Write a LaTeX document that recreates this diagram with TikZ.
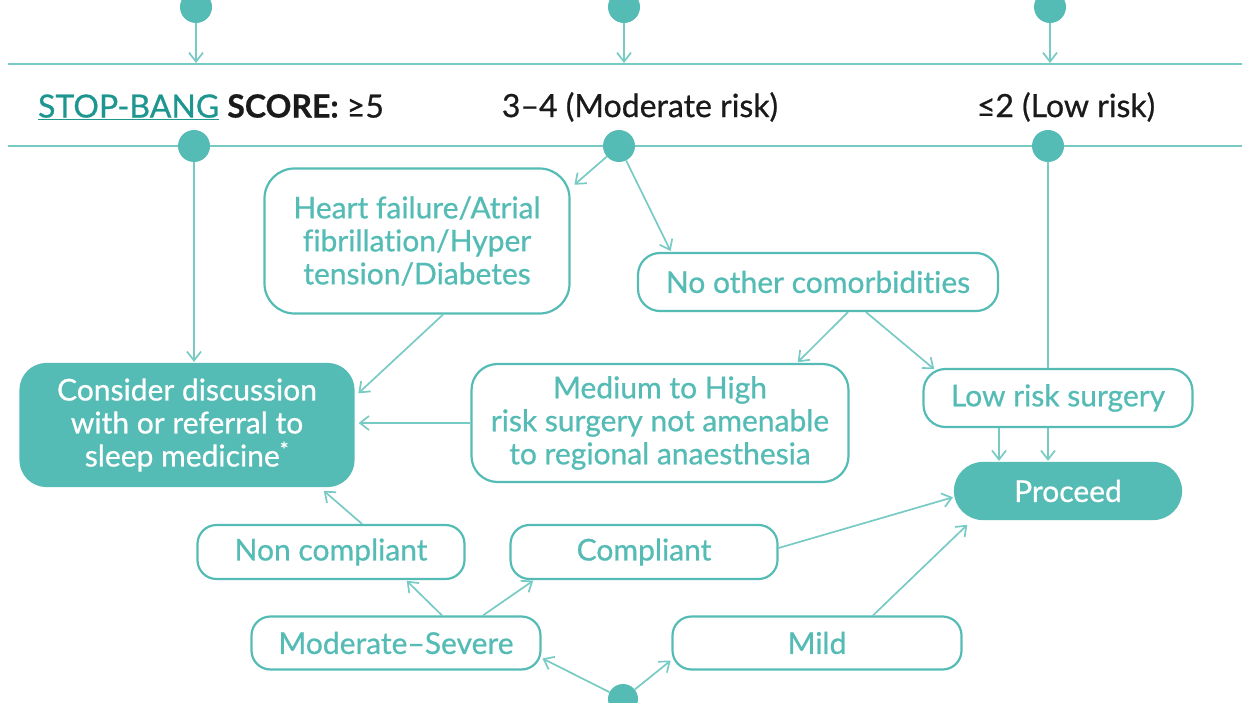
\documentclass[tikz,border=0pt]{standalone}
\usepackage{fontspec}
\setmainfont{Lato}
\newfontfamily\medfont{Lato}[FakeBold=0.7, Ligatures=NoCommon]
\usetikzlibrary{arrows.meta}
\definecolor{tfill}{HTML}{55BBB5}
\definecolor{tline}{HTML}{78CBC5}
\definecolor{tdark}{HTML}{1E9690}
\definecolor{hdark}{HTML}{1A1A1A}
\begin{document}
\begin{tikzpicture}[x=1pt,y=-1pt,
  box/.style={draw=tfill, line width=2.2pt, rounded corners=22pt, text=tfill,
    font=\medfont\fontsize{30}{33}\selectfont, align=center, inner sep=0pt},
  fillbox/.style={box, fill=tfill, text=white},
  conn/.style={draw=tline, line width=1.7pt, shorten >=1pt,
    -{Straight Barb[length=9pt,width=14pt,line width=1.7pt]}},
  plainline/.style={draw=tline, line width=2pt},
  dot/.style={circle, fill=tfill, minimum size=32pt, inner sep=0pt},
  head/.style={text=hdark, font=\medfont\fontsize{32}{36}\selectfont, inner sep=0pt}]
\useasboundingbox (0,0) rectangle (1244,703);
% horizontal lines
\coordinate (l1a) at (8,64);
\coordinate (l1b) at (1242,64);
\coordinate (l2a) at (8,146);
\coordinate (l2b) at (1242,146);
\draw[plainline] (l1a) -- (l1b);
\draw[plainline] (l2a) -- (l2b);
% top dots
\node[dot] (t1) at (196,7) {};
\node[dot] (t2) at (624,7) {};
\node[dot] (t3) at (1050,7) {};
\draw[conn] (t1) -- (t1 |- l1a);
\draw[conn] (t2) -- (t2 |- l1a);
\draw[conn] (t3) -- (t3 |- l1a);
% headers
\node[head] (h1) at (211,107) {{\color{tdark}\underline{STOP-BANG}} \textbf{SCORE:} ≥5};
\node[head] (h2) at (640,107) {3–4 (Moderate risk)};
\node[head] (h3) at (1066,107) {≤2 (Low risk)};
% second-line dots
\node[dot] (b1) at (194,146) {};
\node[dot] (b2) at (619,146) {};
\node[dot] (b3) at (1048,146) {};
% boxes
\node[box, minimum width=305pt, minimum height=145pt, rounded corners=30pt] (hf) at (417,241)
  {Heart failure/Atrial\\fibrillation/Hyper\\tension/Diabetes};
\node[box, minimum width=360pt, minimum height=58pt] (noc) at (818,282) {No other comorbidities};
\node[fillbox, minimum width=333pt, minimum height=122pt, rounded corners=26pt] (cons) at (187,425)
  {Consider discussion\\with or referral to\\sleep medicine\textsuperscript{*}};
\node[box, minimum width=377pt, minimum height=118pt, rounded corners=26pt] (med) at (660,423)
  {Medium to High\\risk surgery not amenable\\to regional anaesthesia};
\node[box, minimum width=269pt, minimum height=58pt] (low) at (1058,398) {Low risk surgery};
\node[fillbox, minimum width=226pt, minimum height=56pt, rounded corners=28pt] (proc) at (1068,491) {Proceed};
\node[box, minimum width=267pt, minimum height=54pt, rounded corners=19pt] (nonc) at (331,552) {Non compliant};
\node[box, minimum width=267pt, minimum height=54pt, rounded corners=19pt] (comp) at (644,552) {Compliant};
\node[box, minimum width=289pt, minimum height=53pt, rounded corners=19pt] (mod) at (396,643) {Moderate–Severe};
\node[box, minimum width=289pt, minimum height=53pt, rounded corners=19pt] (mild) at (817,643) {Mild};
\node[dot, minimum size=30pt] (bd) at (623,699) {};
% connectors
\draw[conn] (b1) -- (b1 |- cons.north);
\draw[conn] (b2) -- ([xshift=3pt,yshift=-18pt]hf.north east);
\draw[conn] (b2) -- ([xshift=-147pt]noc.north);
\draw[conn] ([xshift=26pt]hf.south) -- ([xshift=3pt,yshift=31pt]cons.east);
\draw[conn] ([xshift=30pt]noc.south) -- ([xshift=137pt]med.north);
\draw[conn] ([xshift=48pt]noc.south) -- ([xshift=-123pt,yshift=-2pt]low.north);
\draw[plainline] (b3) -- (b3 |- low.north);
\draw[conn] ([xshift=-59pt]low.south) -- ([xshift=-69pt]proc.north);
\draw[conn] ([xshift=-10pt]low.south) -- ([xshift=-20pt]proc.north);
\draw[conn] (med.west) -- ([xshift=3pt]cons.east |- med.west);
\draw[conn] ([xshift=31pt]nonc.north) -- ([xshift=136pt,yshift=-3pt]cons.south);
\draw[conn] ([xshift=46pt]mod.north) -- ([xshift=75pt]nonc.south);
\draw[conn] ([xshift=87pt]mod.north) -- ([xshift=-110pt]comp.south);
\draw[conn] ([yshift=4pt]comp.east) -- ([yshift=-6pt]proc.west);
\draw[conn] ([xshift=56pt]mild.north) -- ([xshift=-100pt,yshift=-4pt]proc.south);
\draw[conn] (bd) -- ([yshift=-15pt]mod.east);
\draw[conn] (bd) -- ([yshift=-17pt]mild.west);
\end{tikzpicture}
\end{document}
